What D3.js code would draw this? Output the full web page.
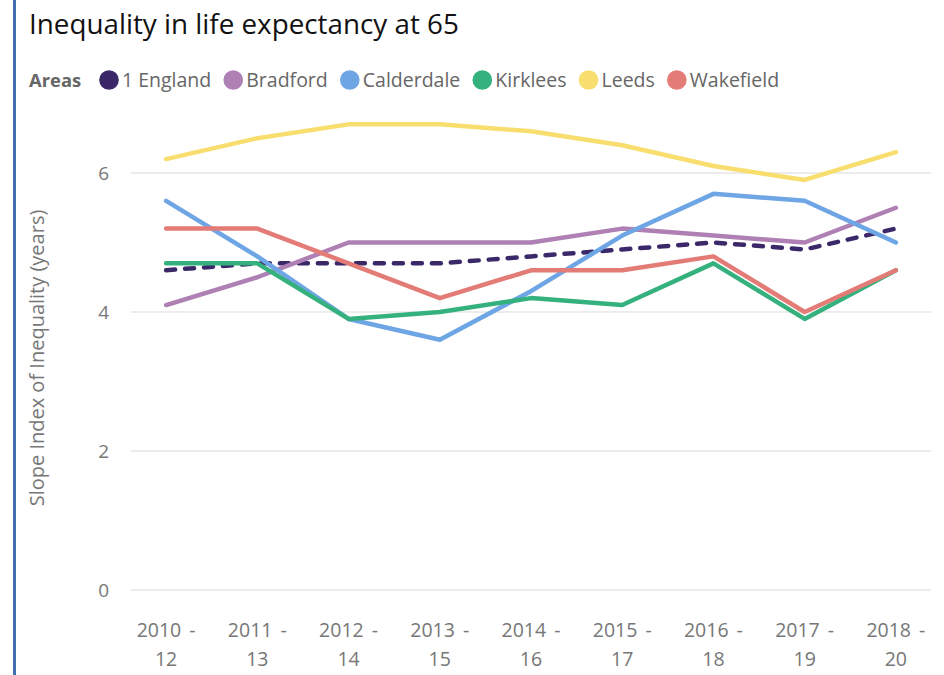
<!DOCTYPE html>
<html>
<head>
<meta charset="utf-8">
<script src="https://cdn.jsdelivr.net/npm/d3@7"></script>
<style>
  body { margin: 0; background: #fff; }
  svg { display: block; font-family: "Open Sans", "Noto Sans", sans-serif; }
</style>
</head>
<body>
<svg id="chart" width="944" height="675"></svg>
<script>
// periods on the x axis (two lines each)
var periods = ["2010 - 12", "2011 - 13", "2012 - 14", "2013 - 15", "2014 - 16",
               "2015 - 17", "2016 - 18", "2017 - 19", "2018 - 20"];
var periodTop = ["2010 -", "2011 -", "2012 -", "2013 -", "2014 -", "2015 -", "2016 -", "2017 -", "2018 -"];
var periodBottom = ["12", "13", "14", "15", "16", "17", "18", "19", "20"];

var areas = ["1 England", "Bradford", "Calderdale", "Kirklees", "Leeds", "Wakefield"];
var colours = ["#3b2868", "#ae80b4", "#6ea5e4", "#35b17d", "#f8de6f", "#e37b77"];

// slope index of inequality (years)
var england    = [4.6, 4.7, 4.7, 4.7, 4.8, 4.9, 5.0, 4.9, 5.2];
var bradford   = [4.1, 4.5, 5.0, 5.0, 5.0, 5.2, 5.1, 5.0, 5.5];
var calderdale = [5.6, 4.8, 3.9, 3.6, 4.3, 5.1, 5.7, 5.6, 5.0];
var kirklees   = [4.7, 4.7, 3.9, 4.0, 4.2, 4.1, 4.7, 3.9, 4.6];
var leeds      = [6.2, 6.5, 6.7, 6.7, 6.6, 6.4, 6.1, 5.9, 6.3];
var wakefield  = [5.2, 5.2, 4.7, 4.2, 4.6, 4.6, 4.8, 4.0, 4.6];

var yTicks = [0, 2, 4, 6];

var series = [england, bradford, calderdale, kirklees, leeds, wakefield];

var svg = d3.select("#chart");

// left accent bar
svg.append("rect")
    .attr("x", 13).attr("y", 0)
    .attr("width", 3).attr("height", 675)
    .attr("fill", "#4070b0");

svg.append("text")
    .attr("x", 29).attr("y", 34)
    .attr("font-size", 27.8)
    .attr("fill", "#111")
    .text("Inequality in life expectancy at 65");

// legend
var legend = svg.append("g");
legend.append("text")
    .attr("x", 29).attr("y", 87)
    .attr("font-size", 18.4)
    .attr("font-weight", "bold")
    .attr("fill", "#666")
    .text("Areas");
var lx = 99;
areas.forEach(function(a, i) {
    legend.append("circle")
        .attr("cx", lx + 10).attr("cy", 80).attr("r", 9.8)
        .attr("fill", colours[i]);
    var t = legend.append("text")
        .attr("x", lx + 23).attr("y", 87)
        .attr("font-size", 19.5)
        .attr("fill", "#666")
        .text(a);
    lx = lx + 23 + t.node().getComputedTextLength() + 12;
});

var x = d3.scalePoint()
    .domain(periods)
    .range([131, 931])
    .padding(0.385);

var y = d3.scaleLinear()
    .domain([0, 7])
    .range([590, 103.5]);

// gridlines + y labels
var grid = svg.append("g");
yTicks.forEach(function(t) {
    grid.append("line")
        .attr("x1", 131).attr("x2", 931)
        .attr("y1", y(t)).attr("y2", y(t))
        .attr("stroke", "#e6e6e6")
        .attr("stroke-width", 1.5);
    grid.append("text")
        .attr("x", 109).attr("y", y(t) + 7)
        .attr("text-anchor", "end")
        .attr("font-size", 19)
        .attr("fill", "#777")
        .text(t);
});

svg.append("text")
    .attr("transform", "translate(44,358) rotate(-90)")
    .attr("text-anchor", "middle")
    .attr("font-size", 20)
    .attr("fill", "#777")
    .text("Slope Index of Inequality (years)");

// x labels
var xa = svg.append("g");
periods.forEach(function(p, i) {
    xa.append("text")
        .attr("x", x(p)).attr("y", 637)
        .attr("text-anchor", "middle")
        .attr("font-size", 19.5)
        .attr("fill", "#777")
        .attr("word-spacing", 3)
        .text(periodTop[i]);
    xa.append("text")
        .attr("x", x(p)).attr("y", 666)
        .attr("text-anchor", "middle")
        .attr("font-size", 19.5)
        .attr("fill", "#777")
        .text(periodBottom[i]);
});

var line = d3.line()
    .x(function(d, i) { return x(periods[i]); })
    .y(function(d) { return y(d); });

series.forEach(function(s, i) {
    svg.append("path")
        .datum(s)
        .attr("d", line)
        .attr("fill", "none")
        .attr("stroke", colours[i])
        .attr("stroke-width", 4.5)
        .attr("stroke-linecap", "round")
        .attr("stroke-linejoin", "round")
        .attr("stroke-dasharray", i === 0 ? "9,10" : null);
});
</script>
</body>
</html>
